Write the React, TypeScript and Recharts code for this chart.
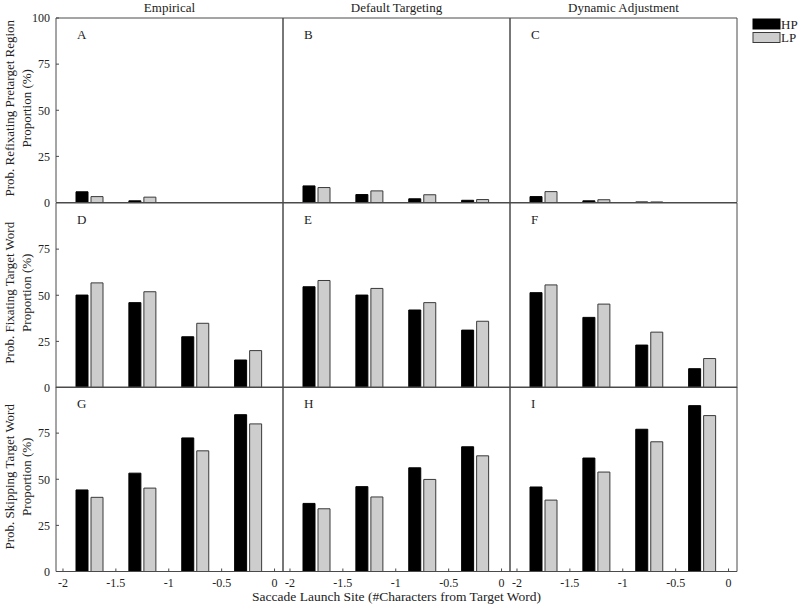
import { BarChart, Bar, XAxis, YAxis } from "recharts";

// launch-site bins (group centres, characters from target word)
const sites = [-1.75, -1.25, -0.75, -0.25];
const xTicks = [-2, -1.5, -1, -0.5, 0];

const columnTitles = ["Empirical", "Default Targeting", "Dynamic Adjustment"];
const rowLabels = [
  "Prob. Refixating Pretarget Region",
  "Prob. Fixating Target Word",
  "Prob. Skipping Target Word",
];
const letters = ["A", "B", "C", "D", "E", "F", "G", "H", "I"];

// row 1: refixating pretarget region
const empiricalRefixHP = [5.8, 0.9, 0, 0];
const empiricalRefixLP = [3.2, 2.9, 0, 0];
const defaultRefixHP = [9.0, 4.3, 2.0, 1.2];
const defaultRefixLP = [8.1, 6.3, 4.2, 1.6];
const dynamicRefixHP = [3.2, 0.9, 0.3, 0];
const dynamicRefixLP = [5.9, 1.5, 0.3, 0];

// row 2: fixating target word
const empiricalFixHP = [50.1, 46.0, 27.5, 14.9];
const empiricalFixLP = [56.7, 51.9, 34.8, 20.0];
const defaultFixHP = [54.6, 50.1, 42.0, 31.1];
const defaultFixLP = [58.0, 53.7, 46.0, 35.9];
const dynamicFixHP = [51.4, 38.0, 23.0, 10.2];
const dynamicFixLP = [55.6, 45.2, 30.0, 15.7];

// row 3: skipping target word
const empiricalSkipHP = [44.2, 53.3, 72.4, 85.0];
const empiricalSkipLP = [40.2, 45.2, 65.4, 80.0];
const defaultSkipHP = [36.9, 46.0, 56.2, 67.6];
const defaultSkipLP = [34.0, 40.4, 49.9, 62.7];
const dynamicSkipHP = [45.8, 61.5, 77.1, 89.9];
const dynamicSkipLP = [38.7, 53.9, 70.3, 84.5];

const panels = [
  [empiricalRefixHP, empiricalRefixLP],
  [defaultRefixHP, defaultRefixLP],
  [dynamicRefixHP, dynamicRefixLP],
  [empiricalFixHP, empiricalFixLP],
  [defaultFixHP, defaultFixLP],
  [dynamicFixHP, dynamicFixLP],
  [empiricalSkipHP, empiricalSkipLP],
  [defaultSkipHP, defaultSkipLP],
  [dynamicSkipHP, dynamicSkipLP],
];

const FONT = '"Liberation Serif", "Times New Roman", serif';
const AXIS = "#4a4a4a";
const PX = [56, 283, 510];
const PY = [18, 202.5, 386.5];
const PW = 227;
const PH = 184.5;
const ML = 34;
const MR = 6;
const MT = 6;
const MB = 26;

const tickStyle = { fontFamily: FONT, fontSize: 12, fill: "#222" };

function Panel({ idx }: { idx: number }) {
  const col = idx % 3;
  const row = Math.floor(idx / 3);
  const [hp, lp] = panels[idx];
  const data = sites.map((s, i) => ({ site: String(s), x: s, HP: hp[i], LP: lp[i] }));
  const yTicks = row === 0 ? [0, 25, 50, 75, 100] : [0, 25, 50, 75];

  return (
    <div style={{ position: "absolute", left: PX[col] - ML, top: PY[row] - MT }}>
      <BarChart
        width={PW + ML + MR}
        height={PH + MT + MB}
        data={data}
        margin={{ top: 0, right: 0, bottom: 0, left: 0 }}
        barSize={12}
        barGap={3}
      >
        <XAxis
          xAxisId="num"
          dataKey="x"
          type="number"
          domain={[-2.066, 0.08]}
          allowDataOverflow
          ticks={xTicks}
          interval={0}
          height={MB}
          axisLine={{ stroke: AXIS }}
          tickLine={{ stroke: AXIS }}
          tickSize={-3}
          tickMargin={10}
          tick={row === 2 ? tickStyle : false}
        />
        <XAxis
          xAxisId="top"
          orientation="top"
          dataKey="x"
          type="number"
          domain={[-2.066, 0.08]}
          allowDataOverflow
          ticks={xTicks}
          interval={0}
          height={MT}
          axisLine={{ stroke: AXIS }}
          tickLine={{ stroke: AXIS }}
          tickSize={-3}
          tick={false}
        />
        <XAxis
          xAxisId="cat"
          dataKey="site"
          type="category"
          orientation="top"
          hide
          height={0}
          padding={{ left: 7, right: 8.5 }}
        />
        <YAxis
          yAxisId="left"
          domain={[0, 100]}
          allowDataOverflow
          ticks={yTicks}
          interval={0}
          width={ML}
          axisLine={{ stroke: AXIS }}
          tickLine={{ stroke: AXIS }}
          tickSize={-3}
          tickMargin={9}
          tick={col === 0 ? tickStyle : false}
        />
        <YAxis
          yAxisId="right"
          orientation="right"
          domain={[0, 100]}
          allowDataOverflow
          ticks={yTicks}
          interval={0}
          width={MR}
          axisLine={{ stroke: AXIS }}
          tickLine={{ stroke: AXIS }}
          tickSize={-3}
          tick={false}
        />
        <Bar xAxisId="cat" yAxisId="left" dataKey="HP" fill="#000" stroke="#000" isAnimationActive={false} />
        <Bar xAxisId="cat" yAxisId="left" dataKey="LP" fill="#cdcdcd" stroke="#3a3a3a" isAnimationActive={false} />
      </BarChart>
    </div>
  );
}

export default function App() {
  return (
    <div style={{ position: "absolute", left: 0, top: 0, width: 800, height: 607, background: "#fff" }}>
      {panels.map((_, i) => (
        <Panel key={i} idx={i} />
      ))}
      <svg
        width={800}
        height={607}
        style={{ position: "absolute", left: 0, top: 0, pointerEvents: "none" }}
        fontFamily={FONT}
        fill="#222"
      >
        {columnTitles.map((t, c) => (
          <text key={t} x={PX[c] + PW / 2} y={11.5} fontSize={13} textAnchor="middle">
            {t}
          </text>
        ))}
        {rowLabels.map((t, r) => {
          const cy = PY[r] + PH / 2 - 2;
          return (
            <g key={t}>
              <text transform={`translate(14,${cy}) rotate(-90)`} fontSize={13} textAnchor="middle">
                {t}
              </text>
              <text transform={`translate(31,${cy}) rotate(-90)`} fontSize={13} textAnchor="middle">
                Proportion (%)
              </text>
            </g>
          );
        })}
        {letters.map((l, i) => (
          <text key={l} x={PX[i % 3] + 21} y={PY[Math.floor(i / 3)] + 21} fontSize={13}>
            {l}
          </text>
        ))}
        <text x={PX[1] + PW / 2} y={601} fontSize={13.5} textAnchor="middle">
          Saccade Launch Site (#Characters from Target Word)
        </text>
        <rect x={753} y={19} width={27} height={10} fill="#000" stroke="#000" />
        <text x={781} y={28.5} fontSize={13}>HP</text>
        <rect x={753} y={32.5} width={27} height={10} fill="#cdcdcd" stroke="#3a3a3a" />
        <text x={781} y={42} fontSize={13}>LP</text>
      </svg>
    </div>
  );
}
